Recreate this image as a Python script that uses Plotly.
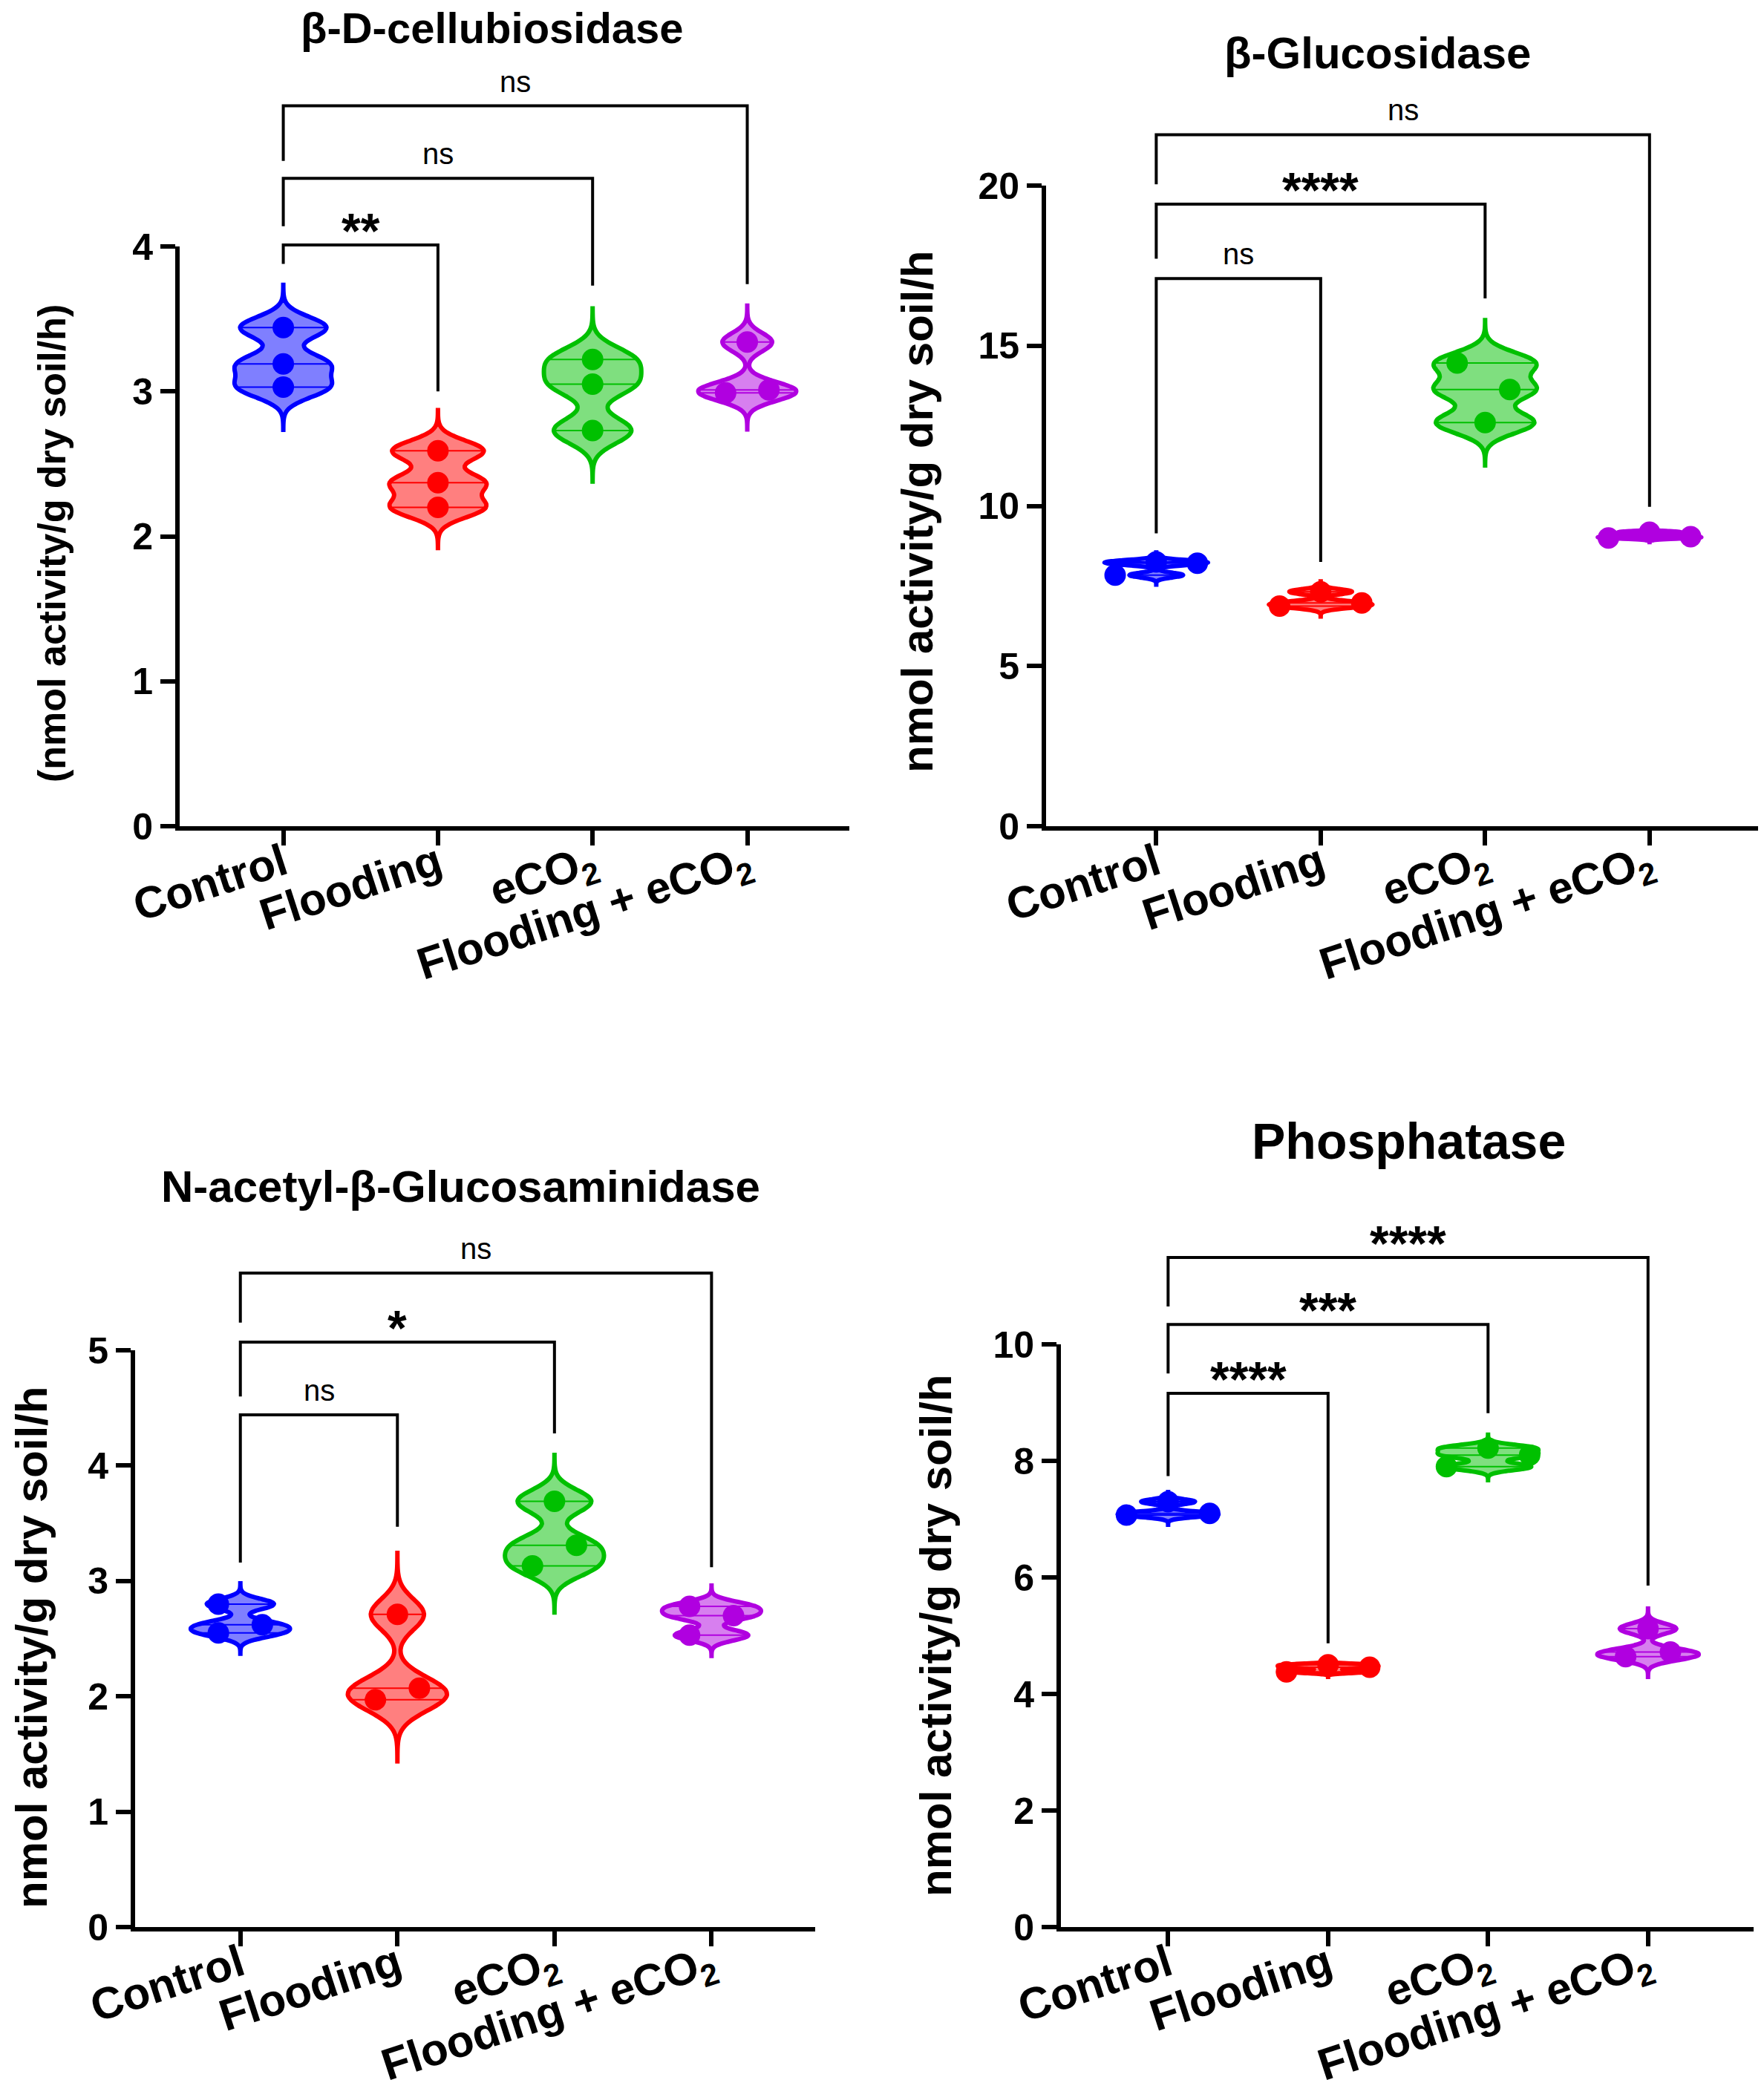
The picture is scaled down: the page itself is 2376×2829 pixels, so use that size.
import numpy as np
import plotly.graph_objects as go

W, H = 2376, 2829

# ---------------- data ----------------
categories = ["Control", "Flooding", "eCO<sub>2</sub>", "Flooding + eCO<sub>2</sub>"]

# β-D-cellubiosidase
cel_control = [3.44, 3.19, 3.03]
cel_flooding = [2.59, 2.37, 2.20]
cel_eco2 = [3.22, 3.05, 2.73]
cel_flood_eco2 = [3.34, 2.99, 3.01]
cel_ticks = [0, 1, 2, 3, 4]
cel_bracket_y = [4.01, 4.47, 4.97]
cel_left_leg = [3.88, 4.14, 4.59]
cel_right_leg = [3.00, 3.73, 3.74]
cel_labels = ["**", "ns", "ns"]

# β-Glucosidase
glu_control = [7.84, 8.25, 8.21]
glu_flooding = [6.87, 7.32, 6.97]
glu_eco2 = [14.46, 12.60, 13.63]
glu_flood_eco2 = [9.00, 9.18, 9.04]
glu_ticks = [0, 5, 10, 15, 20]
glu_bracket_y = [17.10, 19.42, 21.59]
glu_left_leg = [9.14, 17.72, 20.04]
glu_right_leg = [8.25, 16.48, 9.97]
glu_labels = ["ns", "****", "ns"]

# N-acetyl-β-Glucosaminidase
nag_control = [2.80, 2.55, 2.62]
nag_flooding = [2.71, 1.97, 2.07]
nag_eco2 = [3.69, 3.13, 3.31]
nag_flood_eco2 = [2.78, 2.53, 2.70]
nag_ticks = [0, 1, 2, 3, 4, 5]
nag_bracket_y = [4.44, 5.07, 5.67]
nag_left_leg = [3.16, 4.60, 5.24]
nag_right_leg = [3.47, 4.28, 3.12]
nag_labels = ["ns", "*", "ns"]

# Phosphatase
pho_control = [7.07, 7.30, 7.10]
pho_flooding = [4.38, 4.50, 4.46]
pho_eco2 = [7.90, 8.22, 8.10]
pho_flood_eco2 = [4.64, 5.12, 4.72]
pho_ticks = [0, 2, 4, 6, 8, 10]
pho_bracket_y = [9.16, 10.34, 11.49]
pho_left_leg = [7.74, 9.50, 10.65]
pho_right_leg = [4.87, 8.82, 5.86]
pho_labels = ["****", "***", "****"]

bracket_pairs = [(0, 1), (0, 2), (0, 3)]

# ---------------- styles / layout ----------------
line_colors = ["rgb(0,0,255)", "rgb(255,0,0)", "rgb(0,192,0)", "rgb(176,0,224)"]
fill_colors = ["rgba(0,0,255,0.5)", "rgba(255,0,0,0.5)", "rgba(0,192,0,0.5)", "rgba(176,0,224,0.5)"]

# horizontal spread of dots within a violin (layout, not data)
cel_spread = [[0, 0, 0], [0, 0, 0], [0, 0, 0], [0, -0.14, 0.14]]
glu_spread = [[-0.25, 0, 0.25], [-0.25, 0, 0.25], [-0.17, 0, 0.15], [-0.25, 0, 0.25]]
nag_spread = [[-0.14, -0.14, 0.14], [0, -0.14, 0.14], [0, -0.14, 0.14], [-0.14, -0.14, 0.14]]
pho_spread = [[-0.26, 0, 0.26], [-0.26, 0, 0.26], [-0.26, 0, 0.26], [-0.14, 0, 0.14]]

FONT = "Liberation Sans, Arial, Helvetica, sans-serif"
XRANGE = [-0.67, 3.66]
VIOLIN_WIDTH = 0.63

panels = [
    dict(title="β-D-cellubiosidase", title_xy=(663, 37), title_size=58,
         ytitle="(nmol activity/g dry soil/h)", ytitle_xy=(70, 732), ytitle_size=52,
         groups=[cel_control, cel_flooding, cel_eco2, cel_flood_eco2], spread=cel_spread,
         ticks=cel_ticks, by=cel_bracket_y, ll=cel_left_leg, rl=cel_right_leg, labels=cel_labels,
         x_px=(242, 1144), y0_px=1113, ytop_px=332, dom_top_px=60),
    dict(title="β-Glucosidase", title_xy=(1855, 72), title_size=60,
         ytitle="nmol activity/g dry soil/h", ytitle_xy=(1235, 690), ytitle_size=60,
         groups=[glu_control, glu_flooding, glu_eco2, glu_flood_eco2], spread=glu_spread,
         ticks=glu_ticks, by=glu_bracket_y, ll=glu_left_leg, rl=glu_right_leg, labels=glu_labels,
         x_px=(1409, 2368), y0_px=1113, ytop_px=250, dom_top_px=120),
    dict(title="N-acetyl-β-Glucosaminidase", title_xy=(620, 1599), title_size=60,
         ytitle="nmol activity/g dry soil/h", ytitle_xy=(42, 2220), ytitle_size=60,
         groups=[nag_control, nag_flooding, nag_eco2, nag_flood_eco2], spread=nag_spread,
         ticks=nag_ticks, by=nag_bracket_y, ll=nag_left_leg, rl=nag_right_leg, labels=nag_labels,
         x_px=(182, 1098), y0_px=2596, ytop_px=1819, dom_top_px=1650),
    dict(title="Phosphatase", title_xy=(1897, 1537), title_size=68,
         ytitle="nmol activity/g dry soil/h", ytitle_xy=(1260, 2204), ytitle_size=60,
         groups=[pho_control, pho_flooding, pho_eco2, pho_flood_eco2], spread=pho_spread,
         ticks=pho_ticks, by=pho_bracket_y, ll=pho_left_leg, rl=pho_right_leg, labels=pho_labels,
         x_px=(1429, 2362), y0_px=2596, ytop_px=1811, dom_top_px=1640),
]


def px_x(px):
    return px / W


def px_y(px):
    return 1 - px / H


def kde_fraction(vals, bw, span, at):
    """Width fraction of a plotly violin (scalemode='width') at given values."""
    v = np.asarray(vals, dtype=float)

    def k(t):
        t = np.atleast_1d(t)
        return np.exp(-0.5 * ((t[None, :] - v[:, None]) / bw) ** 2).sum(axis=0)

    dist = span[1] - span[0]
    n = int(np.ceil(dist / (bw / 3)))
    grid = span[0] + np.arange(n + 1) * dist / n
    return k(at) / k(grid).max()


fig = go.Figure()
layout = dict(
    width=W, height=H, margin=dict(l=0, r=0, t=0, b=0, autoexpand=False),
    paper_bgcolor="white", plot_bgcolor="rgba(0,0,0,0)", showlegend=False,
    font=dict(family=FONT, color="black"),
)
annotations = []

for p_i, P in enumerate(panels):
    xi = "" if p_i == 0 else str(p_i + 1)
    yi_main = "" if p_i == 0 else str(p_i + 1)
    yi_line = str(p_i + 5)
    xname, yname, ylname = "x" + xi, "y" + yi_main, "y" + yi_line

    axis_top = P["ticks"][-1]
    ppu = (P["y0_px"] - P["ytop_px"]) / axis_top
    ymax = (P["y0_px"] - P["dom_top_px"]) / ppu

    xdom = [px_x(P["x_px"][0]), px_x(P["x_px"][1])]
    ydom = [px_y(P["y0_px"]), px_y(P["dom_top_px"])]
    yline_dom = [px_y(P["y0_px"]), px_y(P["ytop_px"])]

    layout["xaxis" + xi] = dict(
        domain=xdom, anchor=yname, range=XRANGE, showgrid=False, zeroline=False,
        automargin=False,
        showline=True, linewidth=6, linecolor="black",
        tickmode="array", tickvals=list(range(len(categories))), ticktext=categories,
        ticks="outside", ticklen=20, tickwidth=6, tickcolor="black", tickangle=-18,
        ticklabelstandoff=-34,
        tickfont=dict(family=FONT, size=60, color="black", weight="bold"),
    )
    layout["yaxis" + yi_main] = dict(
        domain=ydom, anchor=xname, range=[0, ymax], showgrid=False, zeroline=False,
        automargin=False,
        showline=True, linewidth=6, linecolor="rgba(0,0,0,0)",
        tickmode="array", tickvals=P["ticks"], ticks="outside", ticklen=20, tickwidth=6,
        tickcolor="black", tickfont=dict(family=FONT, size=50, color="black", weight="bold"),
    )
    layout["yaxis" + yi_line] = dict(
        domain=yline_dom, anchor=xname, range=[0, axis_top], showgrid=False, zeroline=False,
        automargin=False,
        showline=True, linewidth=6, linecolor="black", ticks="", showticklabels=False,
    )
    fig.add_trace(go.Scatter(x=[], y=[], xaxis=xname, yaxis=ylname, showlegend=False,
                             hoverinfo="skip"))

    # violins
    for g, vals in enumerate(P["groups"]):
        rng = max(vals) - min(vals)
        bw = 0.18 * rng
        span = [min(vals) - 4 * bw, max(vals) + 4 * bw]
        fig.add_trace(go.Violin(
            x=[g] * len(vals), y=vals, xaxis=xname, yaxis=yname,
            width=VIOLIN_WIDTH, scalemode="width", scalegroup=f"p{p_i}g{g}",
            bandwidth=bw, spanmode="manual", span=span, side="both",
            line=dict(color=line_colors[g], width=6), fillcolor=fill_colors[g],
            points=False, box=dict(visible=False), meanline=dict(visible=False),
            hoverinfo="skip", showlegend=False,
        ))
        # quartile lines (min / median / max for n = 3)
        qs = np.percentile(vals, [25, 50, 75], method="weibull")
        frac = kde_fraction(vals, bw, span, qs)
        for q, f in zip(qs, frac):
            half = VIOLIN_WIDTH / 2 * f
            fig.add_trace(go.Scatter(
                x=[g - half, g + half], y=[q, q], xaxis=xname, yaxis=yname,
                mode="lines", line=dict(color=line_colors[g], width=2),
                hoverinfo="skip", showlegend=False,
            ))

    # points
    for g, vals in enumerate(P["groups"]):
        fig.add_trace(go.Scatter(
            x=[g + o for o in P["spread"][g]], y=vals, xaxis=xname, yaxis=yname,
            mode="markers", marker=dict(size=29, color=line_colors[g], line=dict(width=0)),
            hoverinfo="skip", showlegend=False, cliponaxis=False,
        ))

    # significance brackets
    for (a, b), h, lb, rb, lab in zip(bracket_pairs, P["by"], P["ll"], P["rl"], P["labels"]):
        fig.add_trace(go.Scatter(
            x=[a, a, b, b], y=[lb, h, h, rb], xaxis=xname, yaxis=yname,
            mode="lines", line=dict(color="black", width=4),
            hoverinfo="skip", showlegend=False,
        ))
        star = lab != "ns"
        annotations.append(dict(
            x=(a + b) / 2, y=h, xref=xname, yref=yname, text=lab, showarrow=False,
            xanchor="center", yanchor="bottom", yshift=-20 if star else 9,
            font=dict(family=FONT, size=66 if star else 40, color="black",
                      weight="bold" if star else "normal"),
        ))

    # panel title
    annotations.append(dict(
        x=px_x(P["title_xy"][0]), y=px_y(P["title_xy"][1]), xref="paper", yref="paper",
        text=P["title"], showarrow=False, xanchor="center", yanchor="middle",
        font=dict(family=FONT, size=P["title_size"], color="black", weight="bold"),
    ))
    # y-axis title
    annotations.append(dict(
        x=px_x(P["ytitle_xy"][0]), y=px_y(P["ytitle_xy"][1]), xref="paper", yref="paper",
        text=P["ytitle"], showarrow=False, xanchor="center", yanchor="middle", textangle=-90,
        font=dict(family=FONT, size=P["ytitle_size"], color="black", weight="bold"),
    ))

layout["annotations"] = annotations
fig.update_layout(**layout)
fig.write_html("out.html", config={"displayModeBar": False},
               post_script="document.body.style.margin='0px';")
